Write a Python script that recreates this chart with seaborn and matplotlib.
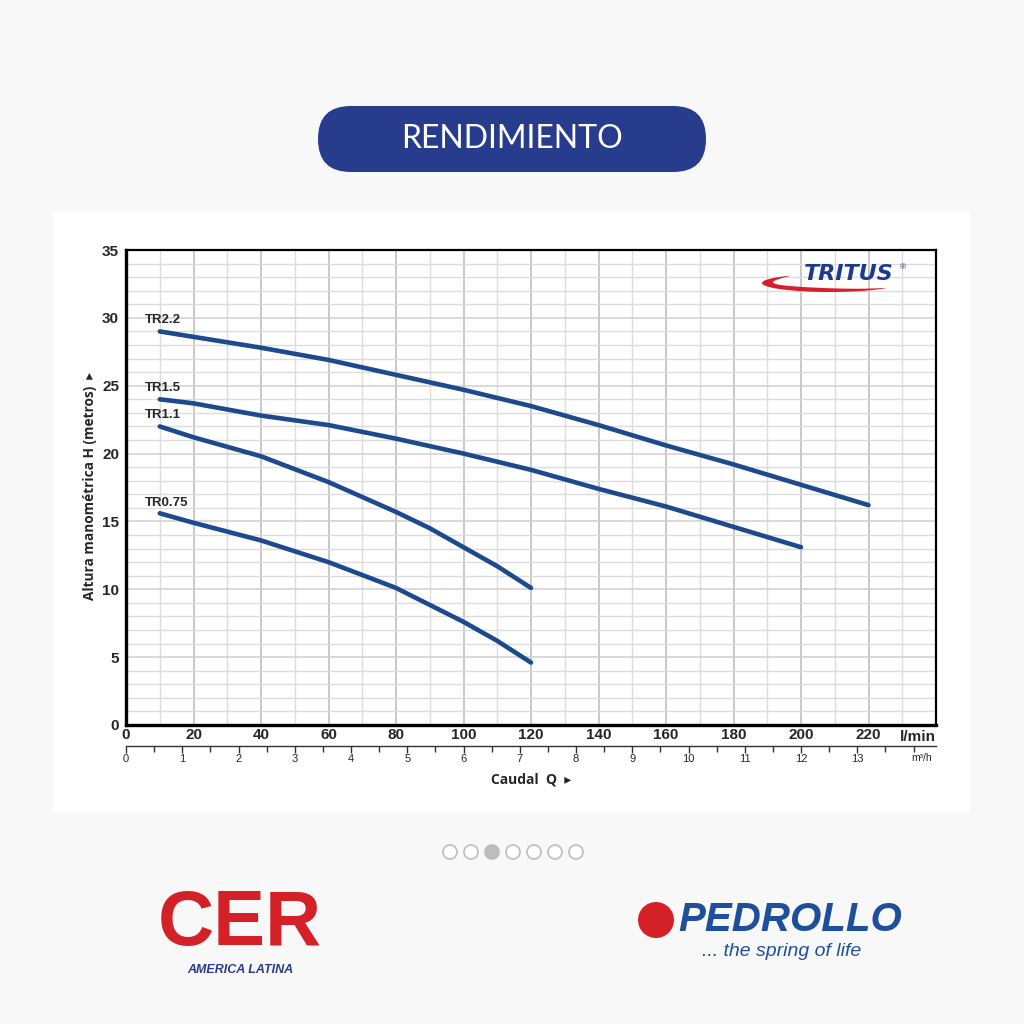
import numpy as np
import pandas as pd
from matplotlib import pyplot as plt
from matplotlib.patches import FancyBboxPatch, Rectangle, Circle, Polygon
from matplotlib.ticker import MultipleLocator
import seaborn as sns

# curve data (Q in l/min, H in m)
q_tr22 = [10, 20, 40, 60, 80, 100, 120, 140, 160, 180, 200, 220]
h_tr22 = [29.0, 28.6, 27.8, 26.9, 25.8, 24.7, 23.5, 22.1, 20.6, 19.2, 17.7, 16.2]
q_tr15 = [10, 20, 40, 60, 80, 100, 120, 140, 160, 180, 200]
h_tr15 = [24.0, 23.7, 22.8, 22.1, 21.1, 20.0, 18.8, 17.4, 16.1, 14.6, 13.1]
q_tr11 = [10, 20, 40, 60, 80, 90, 100, 110, 120]
h_tr11 = [22.0, 21.2, 19.8, 17.9, 15.7, 14.5, 13.1, 11.7, 10.1]
q_tr075 = [10, 20, 40, 60, 80, 100, 110, 120]
h_tr075 = [15.6, 14.9, 13.6, 12.0, 10.1, 7.6, 6.2, 4.6]

models = ['TR2.2', 'TR1.5', 'TR1.1', 'TR0.75']
label_pos = [(5.5, 29.4), (5.5, 24.4), (5.5, 22.4), (5.5, 15.9)]
x_ticks = [0, 20, 40, 60, 80, 100, 120, 140, 160, 180, 200, 220]
y_ticks = [0, 5, 10, 15, 20, 25, 30, 35]
m3h_ticks = list(range(0, 14))

df = pd.concat([
    pd.DataFrame({'Q': q_tr22, 'H': h_tr22, 'modello': 'TR2.2'}),
    pd.DataFrame({'Q': q_tr15, 'H': h_tr15, 'modello': 'TR1.5'}),
    pd.DataFrame({'Q': q_tr11, 'H': h_tr11, 'modello': 'TR1.1'}),
    pd.DataFrame({'Q': q_tr075, 'H': h_tr075, 'modello': 'TR0.75'}),
])

sns.set_theme(style='white')
plt.rcParams['font.family'] = ['Liberation Sans', 'DejaVu Sans']

curve_col = '#1c4a8c'
navy = '#283c8e'

fig = plt.figure(figsize=(10.24, 10.24), dpi=100, facecolor='#f8f8f8')

# pannello bianco del grafico
fig.patches.append(Rectangle((53 / 1024, 1 - 812 / 1024), 917 / 1024, 600 / 1024,
                             transform=fig.transFigure, facecolor='white', edgecolor='none', zorder=-5))

# titolo a pillola
fig.patches.append(FancyBboxPatch((318 / 1024, 1 - 172 / 1024), 388 / 1024, 66 / 1024,
                                  boxstyle='round,pad=0,rounding_size=0.032',
                                  transform=fig.transFigure, facecolor=navy, edgecolor='none'))
fig.text(512 / 1024, 1 - 139 / 1024, 'RENDIMIENTO', color='white', fontsize=23,
         family='Lato', ha='center', va='center')

ax = fig.add_axes([126 / 1024, 1 - 725 / 1024, 810 / 1024, 475 / 1024])
ax.set_zorder(2)
ax.set_facecolor('white')

sns.lineplot(data=df, x='Q', y='H', hue='modello', palette=[curve_col] * 4,
             linewidth=3.3, legend=False, sort=False, ax=ax, zorder=3)
for ln in ax.get_lines():
    ln.set_solid_joinstyle('round')

ax.set_xlim(0, 240)
ax.set_ylim(0, 35)
ax.xaxis.set_minor_locator(MultipleLocator(10))
ax.yaxis.set_minor_locator(MultipleLocator(1))
ax.set_xticks(x_ticks)
ax.set_yticks(y_ticks)
ax.grid(which='major', axis='x', color='#c4c4c4', linewidth=1.3)
ax.grid(which='minor', axis='x', color='#dcdcdc', linewidth=1.0)
ax.grid(which='major', axis='y', color='#cfcfcf', linewidth=1.1)
ax.grid(which='minor', axis='y', color='#dcdcdc', linewidth=1.0)
ax.set_axisbelow(True)
for s in ax.spines.values():
    s.set_color('black')
    s.set_linewidth(1.6)
ax.spines['left'].set_linewidth(2.4)
ax.spines['bottom'].set_linewidth(2.4)

ax.tick_params(which='both', length=0)
ax.tick_params(axis='x', pad=2, labelsize=11)
ax.tick_params(axis='y', pad=5, labelsize=11)
for lab in ax.get_xticklabels() + ax.get_yticklabels():
    lab.set_fontweight('bold')
ax.set_xlabel('')
ax.set_ylabel('Altura manométrica H (metros)  \u25b8', fontsize=9.8, fontweight='bold',
              family=['Open Sans', 'DejaVu Sans'])
ax.yaxis.set_label_coords(-0.036, 0.503)

ax.text(1.0, -0.011, 'l/min', transform=ax.transAxes, ha='right', va='top',
        fontsize=11, fontweight='bold')

for name, (x, y) in zip(models, label_pos):
    ax.text(x, y, name, fontsize=9.5, fontweight='bold', ha='left', va='bottom', zorder=4)

# asse secondario in m3/h
sec = ax.secondary_xaxis(-0.044, functions=(lambda q: q * 60 / 1000, lambda m: m * 1000 / 60))
sec.set_xticks(m3h_ticks)
sec.set_xticklabels([str(t) for t in m3h_ticks])
sec.xaxis.set_minor_locator(MultipleLocator(0.5))
sec.spines['bottom'].set_linewidth(1.0)
sec.spines['bottom'].set_color('#333333')
sec.tick_params(which='major', length=5, width=1.0, color='#333333', labelsize=8, pad=1)
sec.tick_params(which='minor', length=4, width=1.0, color='#333333')
ax.text(0.995, -0.058, 'm³/h', transform=ax.transAxes, ha='right', va='top', fontsize=7.5)
ax.text(0.5, -0.099, 'Caudal  Q  \u25b8', transform=ax.transAxes, ha='center', va='top',
        fontsize=10, fontweight='bold', family=['Open Sans', 'DejaVu Sans'])

# logo TRITUS (in pixel -> coordinate assi)
def px2ax(px, py):
    return (px - 126) / 810, (725 - py) / 475

th = np.radians(np.linspace(126, 327, 80))
k = np.sin(np.pi * (np.degrees(th) - 126) / 201) ** 0.7
outer = [px2ax(830 + 68 * np.cos(t), 283 - 9 * np.sin(t)) for t in th]
inner = [px2ax(830 + (68 - 14 * w) * np.cos(t), 283 - (9 - 4.5 * w) * np.sin(t))
         for t, w in zip(th, k)]
ax.add_patch(Polygon(outer + inner[::-1], closed=True, transform=ax.transAxes,
                     facecolor='#d81e2a', edgecolor='none', zorder=5))
tx, ty = px2ax(849, 274)
ax.text(tx, ty, 'TRITUS', transform=ax.transAxes, ha='center', va='center',
        fontsize=16, fontweight='bold', style='italic', color='#1d3b8c', zorder=6,
        family='DejaVu Sans')
rx, ry = px2ax(903, 268)
ax.text(rx, ry, '®', transform=ax.transAxes, ha='center', va='center',
        fontsize=6, color='#1d3b8c', zorder=6)

# indicatori carosello
for i in range(7):
    fig.patches.append(Circle(((450 + 21 * i) / 1024, 1 - 852 / 1024), 7 / 1024,
                              transform=fig.transFigure, facecolor='#bdbdbd' if i == 2 else 'white',
                              edgecolor='#bdbdbd', linewidth=1.2))

# loghi in basso
fig.text(240 / 1024, 1 - 925 / 1024, 'CER', color='#d42027', fontsize=56, fontweight='bold',
         ha='center', va='center', family='Liberation Sans')
fig.text(240 / 1024, 1 - 970 / 1024, 'AMERICA LATINA', color='#2b3a8c', fontsize=9,
         fontweight='bold', style='italic', ha='center', va='center')
fig.patches.append(Circle((656 / 1024, 1 - 920 / 1024), 18 / 1024, transform=fig.transFigure,
                          facecolor='#d42027', edgecolor='none'))
fig.text(790 / 1024, 1 - 920 / 1024, 'PEDROLLO', color='#1e4f9c', fontsize=29, fontweight='bold',
         style='italic', ha='center', va='center')
fig.text(782 / 1024, 1 - 952 / 1024, '... the spring of life', color='#1e4f9c', fontsize=14,
         style='italic', ha='center', va='center')

fig.savefig('out.png', dpi=100, facecolor=fig.get_facecolor())
